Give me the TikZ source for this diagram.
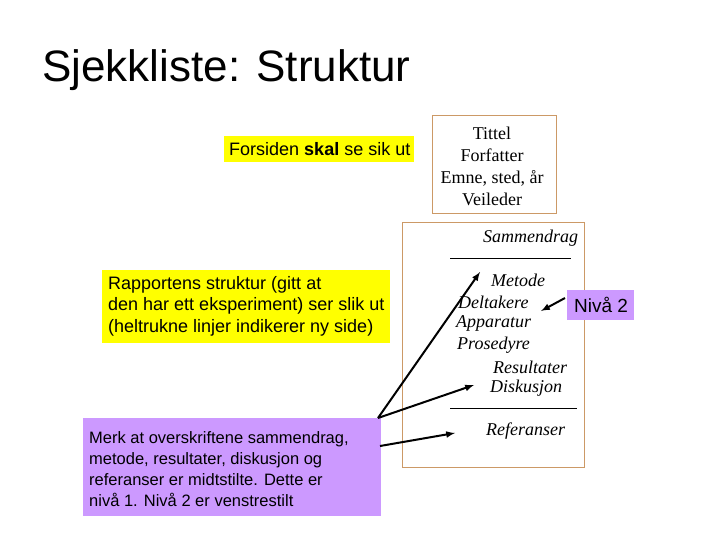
\documentclass[tikz,border=0pt]{standalone}
\usepackage{fontspec}
\setmainfont{Liberation Serif}
\newfontfamily\arial{Liberation Sans}
\definecolor{yel}{RGB}{255,255,0}
\definecolor{pur}{RGB}{204,153,255}
\definecolor{brn}{RGB}{204,153,102}
\begin{document}
\begin{tikzpicture}[x=1pt,y=-1pt,
  lab/.style={font=\arial\fontsize{18}{21.5}\selectfont,align=left,inner sep=4pt,anchor=north west},
  itl/.style={font=\itshape\fontsize{18}{20}\selectfont,anchor=west,inner sep=0pt},
  arr/.style={-latex,line width=2pt}]
\useasboundingbox (0,0) rectangle (720,540);
\node[anchor=west,font=\arial\fontsize{44}{50}\selectfont,inner sep=0] (title) at (42,70) {Sjekkliste: Struktur};
\fill[yel] (224,136) rectangle (414,162);
\node[lab,anchor=west] (fors) at (225,149) {Forsiden \textbf{skal} se sik ut};
\draw[brn] (432,115) rectangle (556,213);
\node[font=\fontsize{18}{22}\selectfont,align=center] (tittel) at (492,166) {Tittel\\Forfatter\\Emne, sted, år\\Veileder};
\fill[yel] (102,270) rectangle (390,343);
\node[lab,anchor=west] (rapp) at (104,306) {Rapportens struktur (gitt at\\den har ett eksperiment) ser slik ut\\(heltrukne linjer indikerer ny side)};
\fill[pur] (83,418) rectangle (381,516);
\node[lab,anchor=west,font=\arial\fontsize{16.5}{21}\selectfont] (merk) at (85,469) {Merk at overskriftene sammendrag,\\metode, resultater, diskusjon og\\referanser er midtstilte. Dette er\\nivå 1. Nivå 2 er venstrestilt};
\draw[brn] (402,222) rectangle (584,467);
\node[itl] (samm) at (483,238) {Sammendrag};
\draw (450,258) -- (571,258);
\node[itl] (met) at (491,280) {Metode};
\node[itl] (del) at (458,302) {Deltakere};
\node[itl] (app) at (456,323) {Apparatur};
\node[itl] (pro) at (457,345) {Prosedyre};
\node[itl] (res) at (493,367) {Resultater};
\node[itl] (dis) at (490,388) {Diskusjon};
\draw (450,408) -- (577,408);
\node[itl] (ref) at (486,431) {Referanser};
\fill[pur] (567,290) rectangle (634,320);
\node[font=\arial\fontsize{19}{20}\selectfont,inner sep=0] (niva) at (601,305) {Nivå 2};
\coordinate (m1) at (378,418);
\coordinate (m2) at (380,446);
\coordinate (n1) at (565,298);
\draw[arr] (m1) -- (480,272);
\draw[arr] (m1) -- (474,385);
\draw[arr] (m2) -- (455,433);
\draw[arr] (n1) -- (541,311);
\end{tikzpicture}
\end{document}
